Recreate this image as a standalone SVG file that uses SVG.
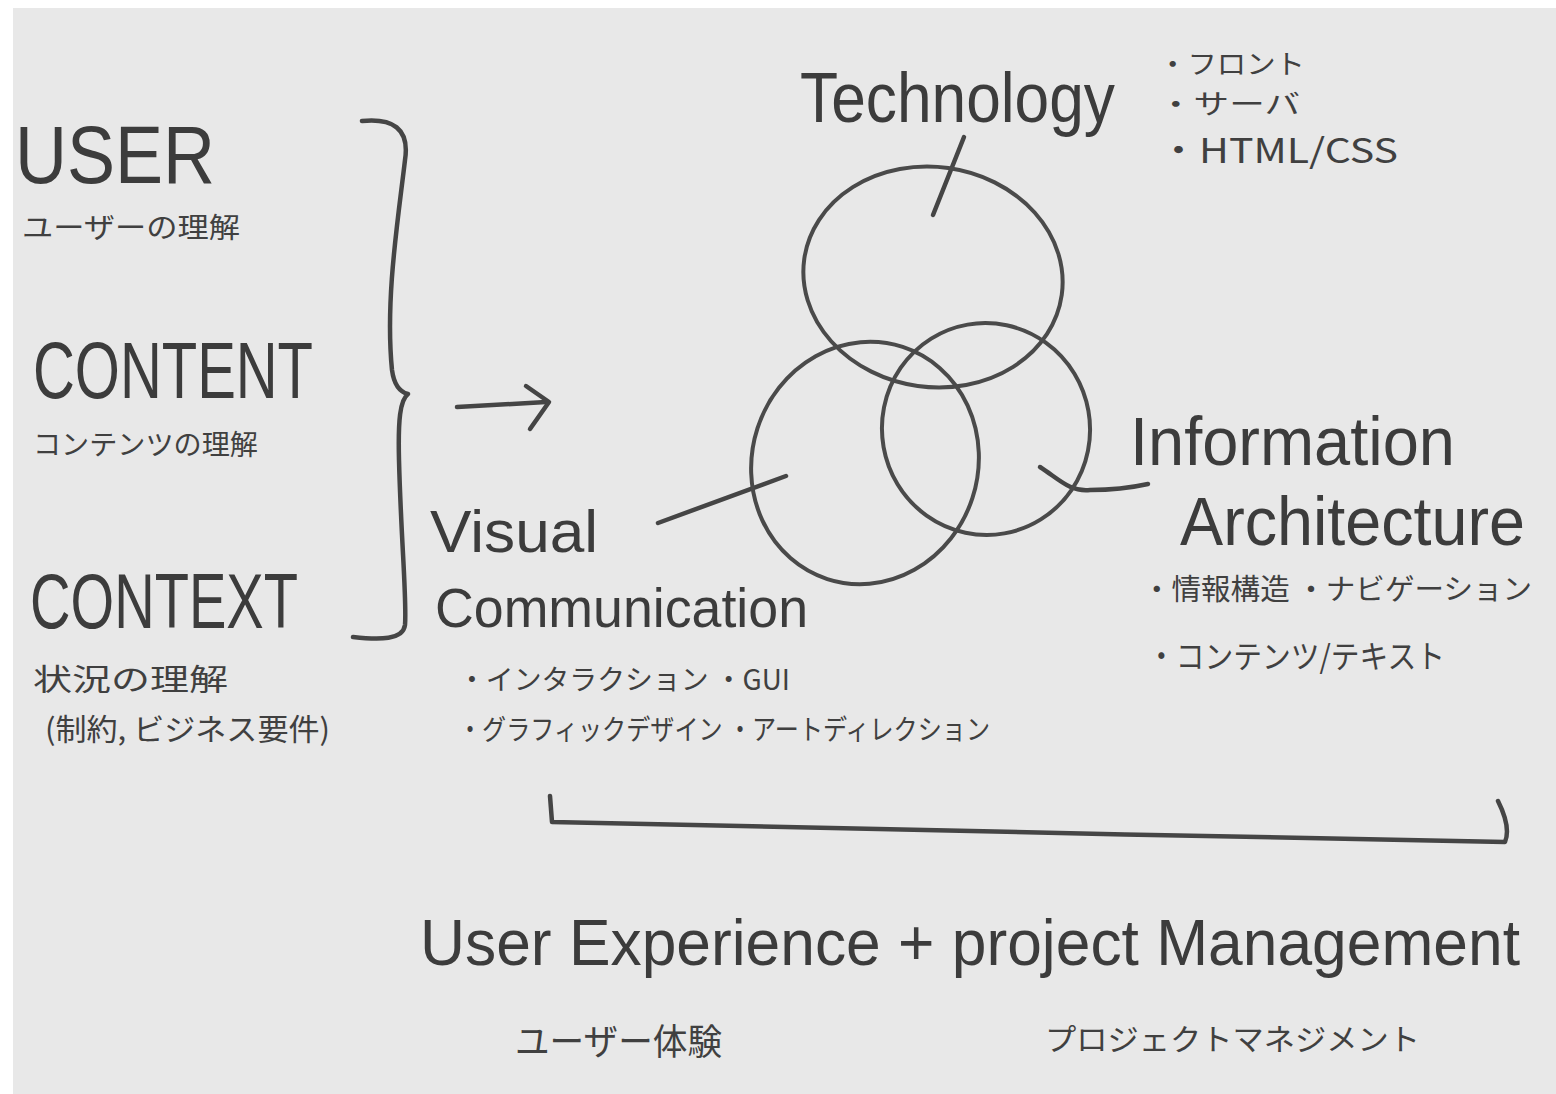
<svg xmlns="http://www.w3.org/2000/svg" width="1556" height="1094" viewBox="0 0 1556 1094">
<style>
.paper{fill:#e8e8e8}
.ink{fill:none;stroke:#454545;stroke-width:4.5;stroke-linecap:round;stroke-linejoin:round}
.ring{fill:none;stroke:#4a4a4a;stroke-width:4}
.big{font-family:"Liberation Sans","Noto Sans",sans-serif;fill:#3c3c3c}
.jp{font-family:"Noto Sans CJK JP","Noto Sans",sans-serif;fill:#404040}
</style>
<rect width="1556" height="1094" fill="#ffffff"/>
<rect class="paper" x="13" y="8" width="1543" height="1086"/>

<g id="connectors">
<path class="ink" d="M362,121 C392,118 410,128 405,160 C398,220 385,300 392,370 C394,385 400,392 408,394 C400,400 398,420 399,460 C401,540 407,600 405,625 C403,640 380,640 353,637"/>
<path class="ink" d="M457,407 L546,402"/>
<path class="ink" d="M526,386 L549,402 L530,429"/>
<path class="ink" d="M550,796 L552,822 C800,828 1200,836 1505,842 C1510,830 1505,815 1498,801"/>
<path class="ink" d="M964,137 L933,215"/>
<path class="ink" d="M658,523 L786,476"/>
<path class="ink" d="M1040,467 C1060,480 1070,492 1090,490 C1110,490 1130,488 1148,484"/>
</g>

<g id="venn">
<ellipse class="ring" cx="933" cy="277" rx="130" ry="110" transform="rotate(8 933 277)"/>
<ellipse class="ring" cx="865" cy="463" rx="113" ry="122" transform="rotate(18 865 463)"/>
<ellipse class="ring" cx="986" cy="429" rx="104" ry="106" transform="rotate(-10 986 429)"/>
</g>

<g id="user">
<text class="big" x="15" y="183" font-size="82" textLength="200" lengthAdjust="spacingAndGlyphs">USER</text>
<text class="jp" x="22" y="238" font-size="28" textLength="218" lengthAdjust="spacingAndGlyphs">ユーザーの理解</text>
</g>
<g id="content">
<text class="big" x="33" y="398" font-size="80" textLength="280" lengthAdjust="spacingAndGlyphs">CONTENT</text>
<text class="jp" x="33" y="455" font-size="28" textLength="225" lengthAdjust="spacingAndGlyphs">コンテンツの理解</text>
</g>
<g id="context">
<text class="big" x="30" y="628" font-size="78" textLength="268" lengthAdjust="spacingAndGlyphs">CONTEXT</text>
<text class="jp" x="33" y="690" font-size="30" textLength="195" lengthAdjust="spacingAndGlyphs">状況の理解</text>
<text class="jp" x="45" y="740" font-size="30" textLength="285" lengthAdjust="spacingAndGlyphs">(制約, ビジネス要件)</text>
</g>

<g id="technology">
<text class="big" x="800" y="122" font-size="70" textLength="315" lengthAdjust="spacingAndGlyphs">Technology</text>
<text class="jp" x="1158" y="74" font-size="27" textLength="147" lengthAdjust="spacingAndGlyphs">・フロント</text>
<text class="jp" x="1158" y="114" font-size="27" textLength="142" lengthAdjust="spacingAndGlyphs">・サーバ</text>
<text class="jp" x="1158" y="163" font-size="34" textLength="240" lengthAdjust="spacingAndGlyphs">・HTML/CSS</text>
</g>

<g id="information-architecture">
<text class="big" x="1130" y="465" font-size="68" textLength="325" lengthAdjust="spacingAndGlyphs">Information</text>
<text class="big" x="1180" y="545" font-size="68" textLength="345" lengthAdjust="spacingAndGlyphs">Architecture</text>
<text class="jp" x="1142" y="600" font-size="29" textLength="390" lengthAdjust="spacingAndGlyphs">・情報構造 ・ナビゲーション</text>
<text class="jp" x="1147" y="668" font-size="32" textLength="298" lengthAdjust="spacingAndGlyphs">・コンテンツ/テキスト</text>
</g>

<g id="visual-communication">
<text class="big" x="430" y="552" font-size="60" textLength="168" lengthAdjust="spacingAndGlyphs">Visual</text>
<text class="big" x="435" y="627" font-size="56" textLength="373" lengthAdjust="spacingAndGlyphs">Communication</text>
<text class="jp" x="458" y="690" font-size="28" textLength="332" lengthAdjust="spacingAndGlyphs">・インタラクション ・GUI</text>
<text class="jp" x="458" y="740" font-size="28" textLength="532" lengthAdjust="spacingAndGlyphs">・グラフィックデザイン ・アートディレクション</text>
</g>

<g id="ux-pm">
<text class="big" x="420" y="965" font-size="64" textLength="1100" lengthAdjust="spacingAndGlyphs">User Experience + project Management</text>
<text class="jp" x="515" y="1055" font-size="36" textLength="207" lengthAdjust="spacingAndGlyphs">ユーザー体験</text>
<text class="jp" x="1045" y="1050" font-size="30" textLength="375" lengthAdjust="spacingAndGlyphs">プロジェクトマネジメント</text>
</g>
</svg>
